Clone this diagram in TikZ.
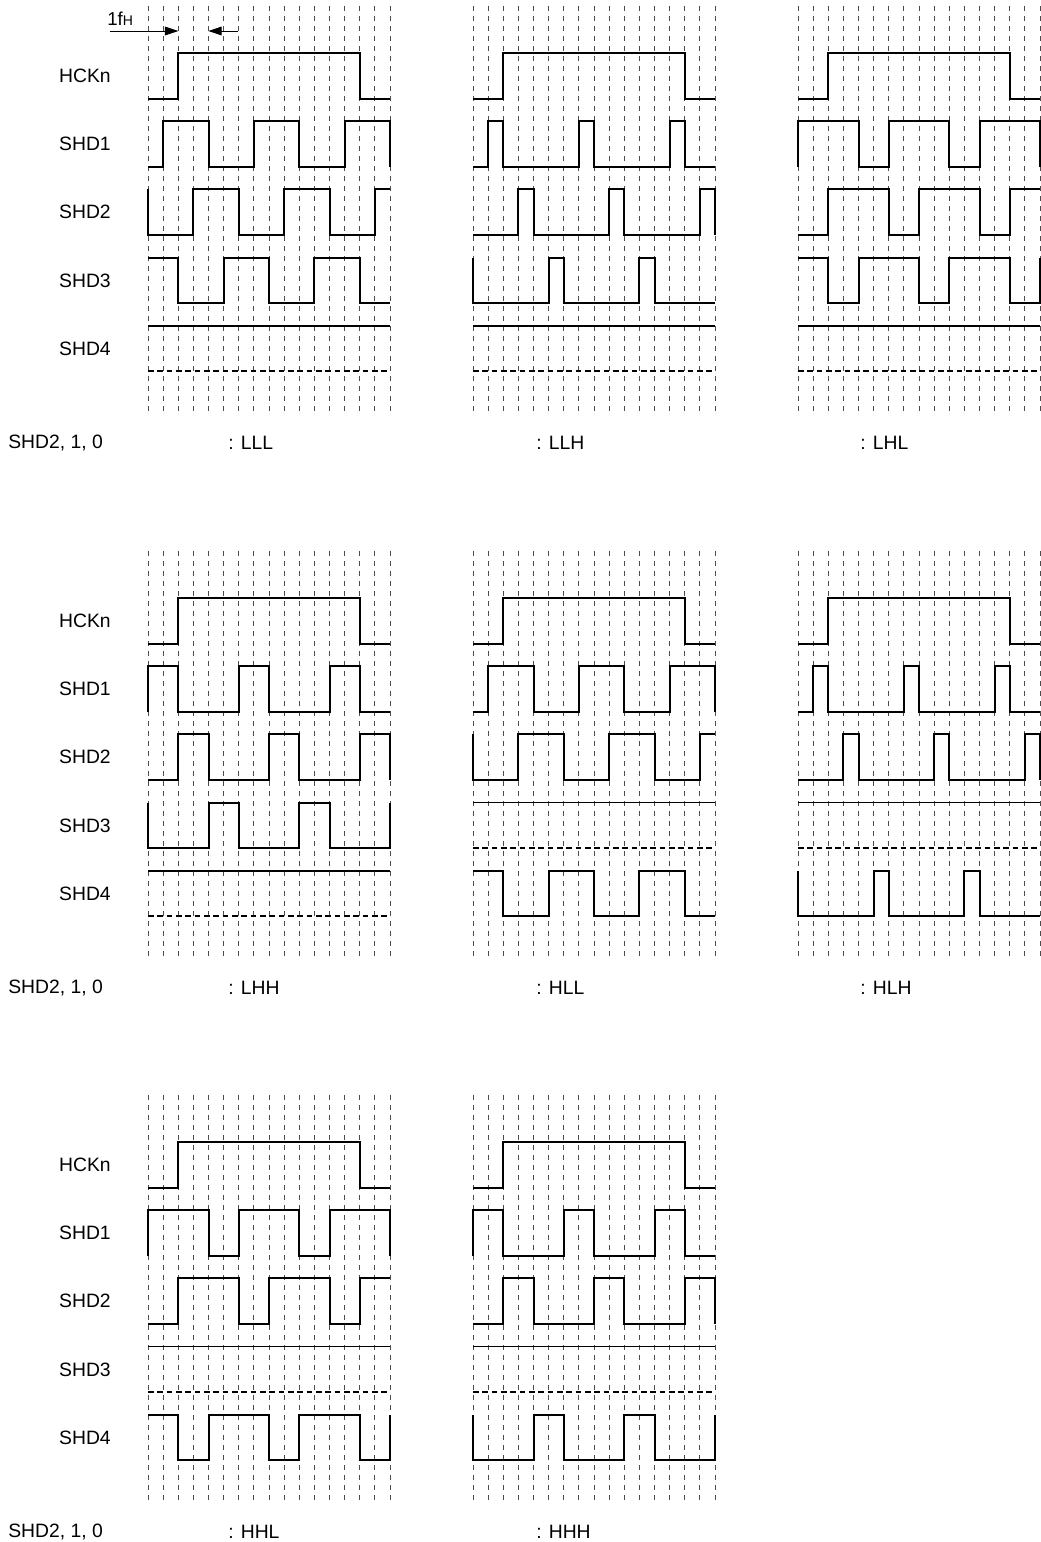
\documentclass[tikz,border=0pt]{standalone}
\usepackage{fontspec}
\setmainfont{Liberation Sans}
\usetikzlibrary{arrows.meta}
\def\yHa{53}\def\yLa{98.5}
\def\yHb{121.2}\def\yLb{166.7}
\def\yHc{189.4}\def\yLc{234.9}
\def\yHd{257.6}\def\yLd{303.1}
\def\yHe{325.8}\def\yLe{371.3}
\tikzset{
  gridline/.style={draw=black!70, line width=0.75pt, dash pattern=on 3.75pt off 3.75pt},
  sigline/.style={draw=black, line width=1.5pt, line join=miter},
  flatline/.style={draw=black, line width=1.3pt},
  hizline/.style={draw=black, line width=1.3pt, dash pattern=on 4.2pt off 2.8pt},
  lbl/.style={font=\fontsize{14.5}{17}\selectfont, inner sep=0pt},
  dimline/.style={draw=black, line width=0.75pt, -{Triangle[length=10pt,width=6.5pt]}},
}
\newcommand\panelgrid{\foreach \i in {0,...,16} {\draw[gridline] (\i,6) -- (\i,415);}}
\newcommand\hckwave{\draw[sigline] (0,\yLa) -| (2,\yHa) -| (14,\yLa) -- (16,\yLa);}
\begin{document}
\begin{tikzpicture}[x=0.75pt,y=-0.75pt]
\useasboundingbox (0,0) rectangle (1040,1542);
\fill[white] (0,0) rectangle (1040,1542);

% ---------- labels ----------
\foreach \r/\dy in {1/0,2/545,3/1089} {
  \node[lbl, anchor=east] (hck\r) at (111,75.8+\dy) {HCKn};
  \node[lbl, anchor=east] (sa\r) at (111,144+\dy) {SHD1};
  \node[lbl, anchor=east] (sb\r) at (111,212.2+\dy) {SHD2};
  \node[lbl, anchor=east] (sc\r) at (111,280.4+\dy) {SHD3};
  \node[lbl, anchor=east] (sd\r) at (111,348.5+\dy) {SHD4};
  \node[lbl, anchor=west] (sel\r) at (8,443+\dy) {SHD2, 1, 0};
}
\node[lbl, anchor=west] (cLLL) at (228,443) {: LLL};
\node[lbl, anchor=west] (cLLH) at (536,443) {: LLH};
\node[lbl, anchor=west] (cLHL) at (860,443) {: LHL};
\node[lbl, anchor=west] (cLHH) at (228,988) {: LHH};
\node[lbl, anchor=west] (cHLL) at (536,988) {: HLL};
\node[lbl, anchor=west] (cHLH) at (860,988) {: HLH};
\node[lbl, anchor=west] (cHHL) at (228,1532) {: HHL};
\node[lbl, anchor=west] (cHHH) at (536,1532) {: HHH};

% ---------- 1fH dimension ----------
\node[anchor=base west, inner sep=0pt, font=\fontsize{14}{16}\selectfont] (fh) at (107,25) {1f{\fontsize{10.5}{12}\selectfont H}};
\coordinate (dA) at (110,31);
\coordinate (dB) at (178.3,31);
\coordinate (dC) at (238,31);
\coordinate (dD) at (208.3,31);
\draw[dimline] (dA) -- (dB);
\draw[dimline] (dC) -- (dD);

% ---------- Panel LLL ----------
\begin{scope}[shift={(148,0)},xscale=15.125]
\panelgrid \hckwave
\draw[sigline] (0,\yLb) -| (1,\yHb) -| (4,\yLb) -| (7,\yHb) -| (10,\yLb) -| (13,\yHb) -| (16,\yLb);
\draw[sigline] (0,\yHc) -- (0,\yLc) -| (3,\yHc) -| (6,\yLc) -| (9,\yHc) -| (12,\yLc) -| (15,\yHc) -- (16,\yHc);
\draw[sigline] (0,\yHd) -| (2,\yLd) -| (5,\yHd) -| (8,\yLd) -| (11,\yHd) -| (14,\yLd) -- (16,\yLd);
\draw[flatline] (0,\yHe) -- (16,\yHe);
\draw[hizline] (0,\yLe) -- (16,\yLe);
\end{scope}

% ---------- Panel LLH ----------
\begin{scope}[shift={(473,0)},xscale=15.125]
\panelgrid \hckwave
\draw[sigline] (0,\yLb) -| (1,\yHb) -| (2,\yLb) -| (7,\yHb) -| (8,\yLb) -| (13,\yHb) -| (14,\yLb) -- (16,\yLb);
\draw[sigline] (0,\yLc) -| (3,\yHc) -| (4,\yLc) -| (9,\yHc) -| (10,\yLc) -| (15,\yHc) -| (16,\yLc);
\draw[sigline] (0,\yHd) -- (0,\yLd) -| (5,\yHd) -| (6,\yLd) -| (11,\yHd) -| (12,\yLd) -- (16,\yLd);
\draw[flatline] (0,\yHe) -- (16,\yHe);
\draw[hizline] (0,\yLe) -- (16,\yLe);
\end{scope}

% ---------- Panel LHL ----------
\begin{scope}[shift={(798,0)},xscale=15.125]
\panelgrid \hckwave
\draw[sigline] (0,\yLb) -- (0,\yHb) -| (4,\yLb) -| (6,\yHb) -| (10,\yLb) -| (12,\yHb) -| (16,\yLb);
\draw[sigline] (0,\yLc) -| (2,\yHc) -| (6,\yLc) -| (8,\yHc) -| (12,\yLc) -| (14,\yHc) -- (16,\yHc);
\draw[sigline] (0,\yHd) -| (2,\yLd) -| (4,\yHd) -| (8,\yLd) -| (10,\yHd) -| (14,\yLd) -| (16,\yHd);
\draw[flatline] (0,\yHe) -- (16,\yHe);
\draw[hizline] (0,\yLe) -- (16,\yLe);
\end{scope}

% ---------- Panel LHH ----------
\begin{scope}[shift={(148,545)},xscale=15.125]
\panelgrid \hckwave
\draw[sigline] (0,\yLb) -- (0,\yHb) -| (2,\yLb) -| (6,\yHb) -| (8,\yLb) -| (12,\yHb) -| (14,\yLb) -- (16,\yLb);
\draw[sigline] (0,\yLc) -| (2,\yHc) -| (4,\yLc) -| (8,\yHc) -| (10,\yLc) -| (14,\yHc) -| (16,\yLc);
\draw[sigline] (0,\yHd) -- (0,\yLd) -| (4,\yHd) -| (6,\yLd) -| (10,\yHd) -| (12,\yLd) -| (16,\yHd);
\draw[flatline] (0,\yHe) -- (16,\yHe);
\draw[hizline] (0,\yLe) -- (16,\yLe);
\end{scope}

% ---------- Panel HLL ----------
\begin{scope}[shift={(473,545)},xscale=15.125]
\panelgrid \hckwave
\draw[sigline] (0,\yLb) -| (1,\yHb) -| (4,\yLb) -| (7,\yHb) -| (10,\yLb) -| (13,\yHb) -| (16,\yLb);
\draw[sigline] (0,\yHc) -- (0,\yLc) -| (3,\yHc) -| (6,\yLc) -| (9,\yHc) -| (12,\yLc) -| (15,\yHc) -- (16,\yHc);
\draw[flatline] (0,\yHd) -- (16,\yHd);
\draw[hizline] (0,\yLd) -- (16,\yLd);
\draw[sigline] (0,\yHe) -| (2,\yLe) -| (5,\yHe) -| (8,\yLe) -| (11,\yHe) -| (14,\yLe) -- (16,\yLe);
\end{scope}

% ---------- Panel HLH ----------
\begin{scope}[shift={(798,545)},xscale=15.125]
\panelgrid \hckwave
\draw[sigline] (0,\yLb) -| (1,\yHb) -| (2,\yLb) -| (7,\yHb) -| (8,\yLb) -| (13,\yHb) -| (14,\yLb) -- (16,\yLb);
\draw[sigline] (0,\yLc) -| (3,\yHc) -| (4,\yLc) -| (9,\yHc) -| (10,\yLc) -| (15,\yHc) -| (16,\yLc);
\draw[flatline] (0,\yHd) -- (16,\yHd);
\draw[hizline] (0,\yLd) -- (16,\yLd);
\draw[sigline] (0,\yHe) -- (0,\yLe) -| (5,\yHe) -| (6,\yLe) -| (11,\yHe) -| (12,\yLe) -- (16,\yLe);
\end{scope}

% ---------- Panel HHL ----------
\begin{scope}[shift={(148,1089)},xscale=15.125]
\panelgrid \hckwave
\draw[sigline] (0,\yLb) -- (0,\yHb) -| (4,\yLb) -| (6,\yHb) -| (10,\yLb) -| (12,\yHb) -| (16,\yLb);
\draw[sigline] (0,\yLc) -| (2,\yHc) -| (6,\yLc) -| (8,\yHc) -| (12,\yLc) -| (14,\yHc) -- (16,\yHc);
\draw[flatline] (0,\yHd) -- (16,\yHd);
\draw[hizline] (0,\yLd) -- (16,\yLd);
\draw[sigline] (0,\yHe) -| (2,\yLe) -| (4,\yHe) -| (8,\yLe) -| (10,\yHe) -| (14,\yLe) -| (16,\yHe);
\end{scope}

% ---------- Panel HHH ----------
\begin{scope}[shift={(473,1089)},xscale=15.125]
\panelgrid \hckwave
\draw[sigline] (0,\yLb) -- (0,\yHb) -| (2,\yLb) -| (6,\yHb) -| (8,\yLb) -| (12,\yHb) -| (14,\yLb) -- (16,\yLb);
\draw[sigline] (0,\yLc) -| (2,\yHc) -| (4,\yLc) -| (8,\yHc) -| (10,\yLc) -| (14,\yHc) -| (16,\yLc);
\draw[flatline] (0,\yHd) -- (16,\yHd);
\draw[hizline] (0,\yLd) -- (16,\yLd);
\draw[sigline] (0,\yHe) -- (0,\yLe) -| (4,\yHe) -| (6,\yLe) -| (10,\yHe) -| (12,\yLe) -| (16,\yHe);
\end{scope}
\end{tikzpicture}
\end{document}
